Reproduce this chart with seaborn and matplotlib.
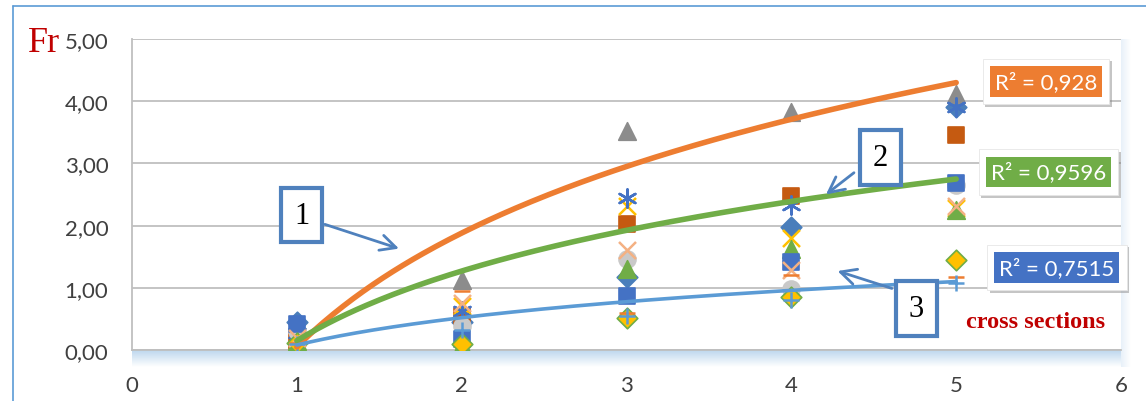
import numpy as np
import pandas as pd
import matplotlib
matplotlib.use("Agg")
import matplotlib.pyplot as plt
import matplotlib.patheffects as pe
from matplotlib.lines import Line2D
from matplotlib.ticker import FuncFormatter
import seaborn as sns

# ---- data -------------------------------------------------------------
sections = [1, 2, 3, 4, 5]

diamond_blue = [0.45, 0.45, 1.17, 1.97, 3.90]
square_brown = [0.15, 0.55, 2.03, 2.48, 3.45]
triangle_grey = [0.10, 1.12, 3.52, 3.83, 4.12]
x_yellow = [0.22, 0.70, 2.32, 1.80, 2.28]
star_blue = [0.28, 0.62, 2.45, 2.33, 3.90]
circle_grey = [0.30, 0.38, 1.47, 0.98, 2.65]
triangle_green = [0.14, 0.08, 1.30, 1.63, 2.25]
square_blue = [0.42, 0.18, 0.87, 1.42, 2.68]
diamond_gold = [0.12, 0.10, 0.52, 0.85, 1.45]
x_pink = [0.20, 0.75, 1.60, 1.28, 2.32]
dash_orange = [0.12, 0.95, 0.60, 1.20, 1.17]
plus_blue = [0.10, 0.32, 0.55, 0.80, 1.08]

# logarithmic trend lines  y = a*ln(x) + b
trend_a = [2.64, 1.615, 0.634]
trend_b = [0.05, 0.15, 0.08]
trend_r2 = ["0,928", "0,9596", "0,7515"]
trend_labels = ["1", "2", "3"]

yticks = [0, 1, 2, 3, 4, 5]
xticks = [0, 1, 2, 3, 4, 5, 6]

# ---- figure -----------------------------------------------------------
sns.set_theme(style="white")
plt.rcParams["font.family"] = ["Lato", "DejaVu Sans"]

W, H = 1146, 402
fig = plt.figure(figsize=(W / 100, H / 100), dpi=100)
fig.patch.set_facecolor("white")

x0, x1, y0, y1 = 132, 1121, 40, 351
ax = fig.add_axes([x0 / W, 1 - y1 / H, (x1 - x0) / W, (y1 - y0) / H])

# soft blue shadow under the plot area
shadow = fig.add_axes([x0 / W, 1 - (y1 + 17) / H, (x1 - x0 + 8) / W, 17 / H], zorder=-1)
grad = np.linspace(1, 0, 64).reshape(-1, 1)
cmap = matplotlib.colors.LinearSegmentedColormap.from_list("sh", ["#FFFFFF", "#BDD7EE"])
shadow.imshow(grad, aspect="auto", cmap=cmap, vmin=0, vmax=1, extent=[0, 1, 0, 1])
shadow.axis("off")
side = fig.add_axes([x1 / W, 1 - (y1 + 17) / H, 10 / W, (y1 - y0 + 17) / H], zorder=-1)
side.imshow(np.linspace(0.35, 0, 32).reshape(1, -1), aspect="auto", cmap=cmap,
            vmin=0, vmax=1, extent=[0, 1, 0, 1])
side.axis("off")

# outer chart frame
fig.add_artist(Line2D([13 / W, 13 / W], [0, 1 - 7 / H], color="#5B9BD5", lw=1.2))
fig.add_artist(Line2D([13 / W, 1], [1 - 7 / H, 1 - 7 / H], color="#5B9BD5", lw=1.2))

# ---- scatter series ---------------------------------------------------
series = [
    (diamond_blue, "D", "#4A7EBB", "#4A7EBB", 110),
    (square_brown, "s", "#C55A11", "#C55A11", 140),
    (triangle_grey, "^", "#8C8C8C", "#8C8C8C", 160),
    (x_yellow, "x", "#FFC000", None, 150),
    (star_blue, (6, 2, 0), "#4472C4", None, 170),
    (circle_grey, "o", "#C9C9C9", "#C9C9C9", 150),
    (triangle_green, "^", "#70AD47", "#70AD47", 160),
    (square_blue, "s", "#4472C4", "#4472C4", 140),
    (diamond_gold, "D", "#FFC000", "#70AD47", 110),
    (x_pink, "x", "#F4B183", None, 150),
    (dash_orange, "_", "#ED7D31", None, 140),
    (plus_blue, "+", "#5B9BD5", None, 140),
]
for vals, mk, col, edge, size in series:
    df = pd.DataFrame({"section": sections, "Fr": vals})
    kw = dict(marker=mk, s=size, ax=ax, zorder=3, legend=False)
    if edge is None:
        sns.scatterplot(data=df, x="section", y="Fr", color=col, linewidth=1.8, **kw)
    else:
        sns.scatterplot(data=df, x="section", y="Fr", color=col, edgecolor=edge,
                        linewidth=1.2, **kw)

# ---- trend lines ------------------------------------------------------
trend_colors = ["#ED7D31", "#70AD47", "#5B9BD5"]
trend_widths = [4.0, 4.0, 2.6]
xs = np.linspace(sections[0], sections[-1], 200)
for a, b, c, w in zip(trend_a, trend_b, trend_colors, trend_widths):
    sns.lineplot(x=xs, y=a * np.log(xs) + b, color=c, lw=w, ax=ax, zorder=4)

# ---- axes styling -----------------------------------------------------
ax.set_xlim(0, 6)
ax.set_ylim(0, 5)
ax.set_xticks(xticks)
ax.set_yticks(yticks)
ax.xaxis.set_major_formatter(FuncFormatter(lambda v, p: f"{v:.0f}"))
ax.yaxis.set_major_formatter(FuncFormatter(lambda v, p: f"{v:.2f}".replace(".", ",")))
ax.tick_params(axis="y", length=0, pad=17, labelsize=16, labelcolor="#404040")
ax.tick_params(axis="x", length=0, pad=18, labelsize=16, labelcolor="#404040")
ax.yaxis.grid(True, color="#BFBFBF", lw=1.3)
ax.set_axisbelow(True)
for s in ["top", "right"]:
    ax.spines[s].set_visible(False)
for s in ["left", "bottom"]:
    ax.spines[s].set_color("#BFBFBF")
    ax.spines[s].set_linewidth(1.3)
ax.set_xlabel("")
ax.set_ylabel("")

# ---- annotations ------------------------------------------------------
fig.text(44 / W, 1 - 43 / H, "Fr", color="#C00000", fontsize=26,
         family="Liberation Serif", ha="center", va="center")

box_style = dict(boxstyle="square,pad=0.42", fc="white", ec="#4F81BD", lw=3)
label_pos = [(1.03, 2.17), (4.54, 3.09), (4.76, 0.67)]
arrows = [((1.17, 2.02), (1.62, 1.63)),
          ((4.38, 2.85), (4.21, 2.50)),
          ((4.61, 0.99), (4.28, 1.27))]
for lab, (px, py), (start, tip) in zip(trend_labels, label_pos, arrows):
    ax.annotate("", xy=tip, xytext=start,
                arrowprops=dict(arrowstyle="->", color="#4F81BD", lw=2,
                                mutation_scale=28, shrinkA=0, shrinkB=0),
                zorder=5)
    ax.text(px, py, lab, fontsize=22, family="Liberation Serif", color="black",
            ha="center", va="center", bbox=box_style, zorder=6)

r2_pos = [(5.545, 4.32), (5.56, 2.86), (5.61, 1.33)]
for r2, (px, py), col in zip(trend_r2, r2_pos, ["#ED7D31", "#70AD47", "#4472C4"]):
    txt = f"R² = {r2}"
    back = ax.text(px, py, txt, fontsize=16, color="none", ha="center", va="center",
                   zorder=6,
                   bbox=dict(boxstyle="square,pad=0.55", fc="white", ec="#E6E6E6", lw=0.6))
    back.get_bbox_patch().set_path_effects(
        [pe.SimplePatchShadow(offset=(2, -2), shadow_rgbFace="#7F7F7F", alpha=0.45),
         pe.Normal()])
    ax.text(px, py, txt, fontsize=16, color="white", ha="center", va="center",
            zorder=7, bbox=dict(boxstyle="square,pad=0.22", fc=col, ec="none"))

ax.text(5.48, 0.46, "cross sections", fontsize=17.5, fontweight="bold",
        family="Liberation Serif", color="#C00000", ha="center", va="center", zorder=6)

fig.savefig("out.png", dpi=100)
